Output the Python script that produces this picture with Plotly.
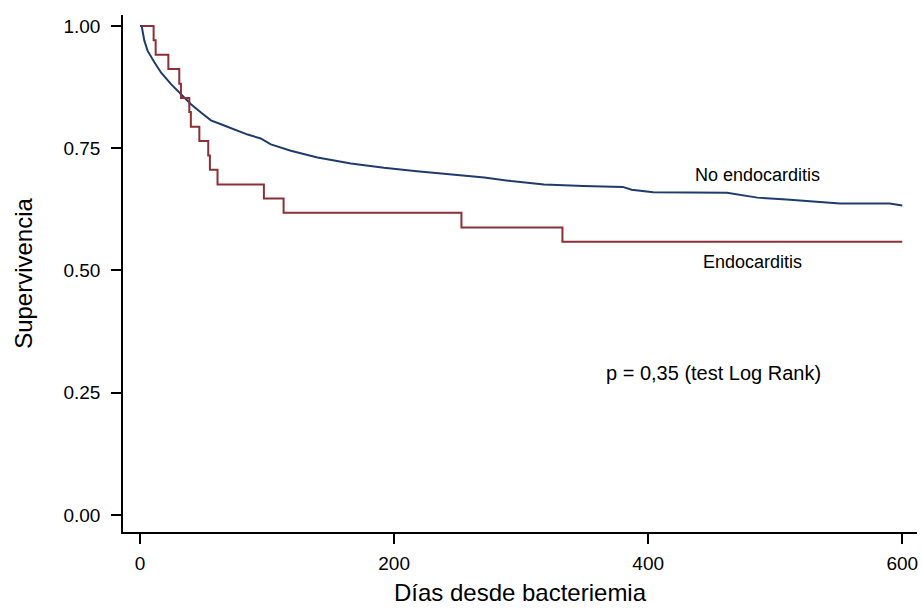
import plotly.graph_objects as go

# No endocarditis (Kaplan-Meier, many small steps)
no_endo_days = [0, 1.3, 3.4, 6, 11.3, 16.5, 24.4, 32.2, 40.1, 48, 55.8, 63.7, 74.2, 84.7,
                95, 103, 118.7, 139.7, 166, 192, 218, 245, 271, 292, 318, 349, 380, 387,
                404, 462, 486, 509, 528, 551, 590, 599, 600]
no_endo_surv = [1.0, 1.0, 0.970, 0.949, 0.926, 0.905, 0.881, 0.861, 0.840, 0.823, 0.807, 0.799,
                0.789, 0.778, 0.770, 0.758, 0.745, 0.731, 0.719, 0.710, 0.703, 0.697, 0.690,
                0.683, 0.676, 0.673, 0.671, 0.665, 0.660, 0.659, 0.649, 0.645, 0.641, 0.637,
                0.637, 0.633, 0.633]

# Endocarditis (Kaplan-Meier steps)
endo_days = [1, 10.7, 12.3, 22.3, 30.9, 32.2, 38.8, 40, 46.7, 53.7, 55, 61, 97.5, 113,
             253, 332.5, 600]
endo_surv = [1.0, 0.971, 0.941, 0.912, 0.882, 0.853, 0.824, 0.794, 0.765, 0.735, 0.706,
             0.676, 0.647, 0.618, 0.588, 0.559, 0.559]

x_ticks = [0, 200, 400, 600]
y_ticks = [0, 0.25, 0.5, 0.75, 1.0]
y_tick_labels = ["0.00", "0.25", "0.50", "0.75", "1.00"]

BLUE = "#1f3b6e"
RED = "#8c2f36"
FONT = "Liberation Sans, Arial, Helvetica, sans-serif"

fig = go.Figure()
fig.add_trace(go.Scatter(x=no_endo_days, y=no_endo_surv, mode="lines",
                         line=dict(color=BLUE, width=2), name="No endocarditis",
                         showlegend=False))
fig.add_trace(go.Scatter(x=endo_days, y=endo_surv, mode="lines",
                         line=dict(color=RED, width=2, shape="hv"), name="Endocarditis",
                         showlegend=False))

fig.add_annotation(x=486.4, y=0.695, text="No endocarditis", showarrow=False,
                   font=dict(family=FONT, size=18, color="black"))
fig.add_annotation(x=482, y=0.518, text="Endocarditis", showarrow=False,
                   font=dict(family=FONT, size=18, color="black"))
fig.add_annotation(x=451.4, y=0.290, text="p = 0,35 (test Log Rank)", showarrow=False,
                   font=dict(family=FONT, size=20, color="black"))

fig.update_layout(
    width=922, height=610,
    margin=dict(l=123, r=5, t=15, b=78),
    paper_bgcolor="white", plot_bgcolor="white",
    font=dict(family=FONT, color="black"),
)
fig.update_xaxes(range=[-13.4, 611.6], tickvals=x_ticks, ticks="outside", ticklen=10,
                 tickwidth=1.5, tickcolor="black", showline=True, linecolor="black",
                 linewidth=1.5, showgrid=False, zeroline=False,
                 tickfont=dict(family=FONT, size=19), ticklabelstandoff=3,
                 title=dict(text="Días desde bacteriemia", font=dict(family=FONT, size=24),
                            standoff=12))
fig.update_yaxes(range=[-0.0348, 1.0225], tickvals=y_ticks, ticktext=y_tick_labels,
                 ticks="outside", ticklen=10, tickwidth=1.5, tickcolor="black",
                 showline=True, linecolor="black", linewidth=1.5, showgrid=False,
                 zeroline=False, tickfont=dict(family=FONT, size=19), ticklabelstandoff=7,
                 title=dict(text="Supervivencia", font=dict(family=FONT, size=24),
                            standoff=24))

fig.write_html("out.html", config={"displayModeBar": False},
               post_script="document.body.style.margin='0';document.body.style.overflow='hidden';")
